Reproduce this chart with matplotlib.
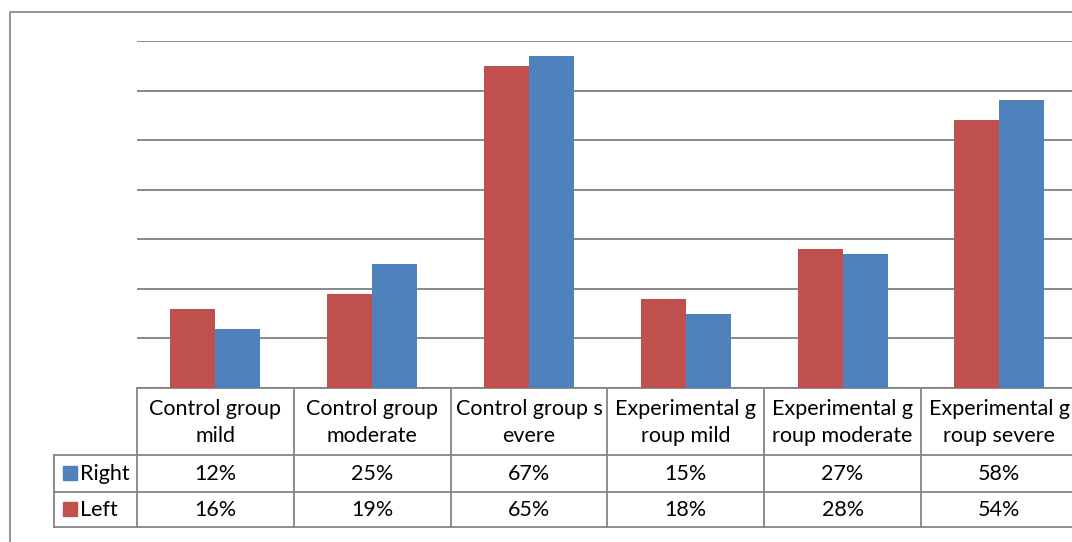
import matplotlib
matplotlib.use("Agg")
import matplotlib.pyplot as plt
from matplotlib.patches import Rectangle

# ---- data ----
categories = ["Control group mild", "Control group moderate", "Control group severe",
              "Experimental group mild", "Experimental group moderate", "Experimental group severe"]
header_lines = [("Control group", "mild"), ("Control group", "moderate"), ("Control group s", "evere"),
                ("Experimental g", "roup mild"), ("Experimental g", "roup moderate"), ("Experimental g", "roup severe")]
right_vals = [12, 25, 67, 15, 27, 58]
left_vals = [16, 19, 65, 18, 28, 54]
series_names = ["Right", "Left"]
y_ticks = [0, 10, 20, 30, 40, 50, 60, 70]

RED = "#C0504D"
BLUE = "#4F81BD"
GRID = "#808080"
FONT = "Lato"

W, H = 1072, 542
fig = plt.figure(figsize=(W / 100, H / 100), dpi=100)
fig.patch.set_facecolor("white")

# pixel layout
x0, cw = 137.0, 156.8          # plot left, category width
y_base, y_top = 388.0, 41.0    # baseline and top gridline
n = len(categories)
x_right = x0 + n * cw

def fx(px):
    return px / W

def fy(py):
    return 1 - py / H

ax = fig.add_axes([fx(x0), fy(y_base), fx(x_right) - fx(x0), fy(y_top) - fy(y_base)])
ax.set_xlim(0, n)
ax.set_ylim(0, 70)
bw = 45 / cw
xs = [i + 0.5 for i in range(n)]
ax.bar([x - bw / 2 for x in xs], left_vals, width=bw, color=RED, zorder=3, clip_on=False)
ax.bar([x + bw / 2 for x in xs], right_vals, width=bw, color=BLUE, zorder=3, clip_on=False)
ax.set_yticks(y_ticks)
ax.set_xticks([])
ax.yaxis.grid(True, color=GRID, linewidth=1.3, zorder=0)
ax.tick_params(axis="y", length=0, labelleft=False)
for s in ax.spines.values():
    s.set_visible(False)
ax.set_facecolor("none")

# overlay axes in pixel coords for border and data table
ov = fig.add_axes([0, 0, 1, 1])
ov.set_xlim(0, W)
ov.set_ylim(H, 0)
ov.axis("off")
ov.set_zorder(-1)

# outer chart border
ov.plot([9.5, 9.5, W + 5], [H + 5, 11.5, 11.5], color="#8A8A8A", lw=1.3, solid_capstyle="butt")

LC = "#858585"
LW = 1.3
r0, r1, r2, r3 = y_base, 455.0, 491.5, 527.0
leg_x = 54.0
# horizontal lines
ov.plot([x0, W + 5], [r0, r0], color=LC, lw=LW)
ov.plot([leg_x, W + 5], [r1, r1], color=LC, lw=LW)
ov.plot([leg_x, W + 5], [r2, r2], color=LC, lw=LW)
ov.plot([leg_x, W + 5], [r3, r3], color=LC, lw=LW)
# vertical lines
ov.plot([leg_x, leg_x], [r1, r3], color=LC, lw=LW)
for i in range(n + 1):
    xv = x0 + i * cw
    ov.plot([xv, xv], [r0, r3], color=LC, lw=LW)

fs = 15.5
for i, (l1, l2) in enumerate(header_lines):
    cx = x0 + (i + 0.5) * cw
    ov.text(cx, 409, l1, ha="center", va="center", fontsize=fs, family=FONT, color="black")
    ov.text(cx, 436, l2, ha="center", va="center", fontsize=fs, family=FONT, color="black")
    ov.text(cx, (r1 + r2) / 2 + 1, f"{right_vals[i]}%", ha="center", va="center", fontsize=fs, family=FONT)
    ov.text(cx, (r2 + r3) / 2 + 1, f"{left_vals[i]}%", ha="center", va="center", fontsize=fs, family=FONT)

for name, col, (ya, yb) in zip(series_names, [BLUE, RED], [(r1, r2), (r2, r3)]):
    yc = (ya + yb) / 2
    ov.add_patch(Rectangle((63, yc - 7), 14, 14, color=col))
    ov.text(80, yc + 1, name, ha="left", va="center", fontsize=fs, family=FONT)

fig.savefig("out.png", dpi=100)
